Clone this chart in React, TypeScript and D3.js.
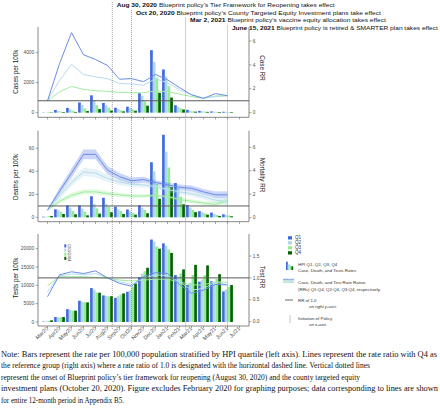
import React from 'react';
import * as d3 from 'd3';

// ---------- DATA ----------
const months = ['Mar20','Apr20','May20','Jun20','Jul20','Aug20','Sep20','Oct20','Nov20','Dec20','Jan21','Feb21','Mar21','Apr21','May21','Jun21','Jul21'];
const quartiles = ['Q1','Q2','Q3','Q4'];

const caseQ1 = [15, 180, 320, 680, 1160, 650, 330, 400, 1300, 4170, 2880, 500, 190, 120, 85, 65];
const caseQ2 = [15, 110, 220, 510, 850, 500, 250, 310, 1130, 3380, 2400, 400, 140, 90, 70, 55];
const caseQ3 = [45, 70, 130, 290, 500, 330, 160, 220, 750, 2340, 1770, 290, 95, 70, 55, 45];
const caseQ4 = [25, 45, 50, 110, 240, 140, 90, 130, 470, 1330, 1010, 210, 70, 55, 45, 40];
const caseRR1 = [1.0, 4.1, 6.7, 4.85, 4.45, 3.95, 2.8, 2.85, 2.6, 3.2, 2.75, 2.1, 1.5, 1.2, 1.6, 1.42];
const caseRR2 = [1.0, 2.7, 4.05, 3.2, 3.0, 2.85, 2.45, 2.4, 2.3, 2.85, 2.5, 1.92, 1.5, 1.22, 1.35, 1.42];
const caseRR3 = [1.0, 1.75, 2.2, 1.95, 1.85, 1.78, 1.7, 1.67, 1.67, 1.82, 1.76, 1.56, 1.35, 1.2, 1.4, 1.42];

const deathQ1 = [0.5, 7, 10.4, 10.4, 18.3, 17, 9.3, 6.8, 10.5, 47.9, 71.8, 29.8, 10.7, 5.3, 4.1, 2.6];
const deathQ2 = [0.4, 6.2, 8.4, 7.6, 11.6, 11.6, 7, 5.2, 8.4, 40, 57, 25.5, 8.4, 4.4, 2.9, 2];
const deathQ3 = [1, 4.8, 5.5, 4.9, 7.8, 9.3, 5.5, 3.8, 6.4, 28.8, 43.3, 18, 6.5, 3.5, 2, 1.5];
const deathQ4 = [1.2, 2.9, 2.6, 1.7, 3.2, 4.4, 2.9, 2.3, 3.5, 16.1, 26.2, 11.3, 4.5, 2.3, 1.2, 0.9];
const deathRR1 = [0.65, 2.25, 3.8, 5.4, 5.4, 4.05, 3.5, 3.15, 3.25, 3.0, 2.8, 2.6, 2.5, 2.2, 1.95, 1.95];
const deathRR2 = [0.65, 1.85, 3.0, 3.9, 3.8, 3.35, 3.05, 2.85, 2.8, 2.65, 2.4, 2.2, 2.05, 1.8, 1.5, 1.35];
const deathRR3 = [0.65, 1.4, 1.9, 2.2, 2.2, 2.05, 1.95, 1.85, 1.85, 1.9, 1.8, 1.55, 1.4, 1.25, 1.15, 1.45];
const deathCI1 = [0.1, 0.3, 0.4, 0.42, 0.42, 0.35, 0.3, 0.28, 0.25, 0.2, 0.2, 0.22, 0.25, 0.25, 0.28, 0.3];
const deathCI2 = [0.1, 0.25, 0.33, 0.35, 0.35, 0.3, 0.27, 0.25, 0.22, 0.18, 0.18, 0.2, 0.22, 0.22, 0.25, 0.27];
const deathCI3 = [0.1, 0.18, 0.22, 0.22, 0.22, 0.2, 0.18, 0.17, 0.15, 0.13, 0.13, 0.15, 0.17, 0.18, 0.2, 0.22];

const testQ1 = [100, 1350, 3500, 5800, 9250, 7250, 6600, 8250, 12250, 22500, 21450, 12800, 10100, 11000, 11100, 8350];
const testQ2 = [150, 1300, 3300, 5500, 8800, 7100, 7050, 8650, 13200, 21900, 20800, 12400, 10700, 11600, 10850, 8900];
const testQ3 = [300, 1300, 3100, 5350, 8050, 7000, 7500, 9650, 13850, 20600, 19800, 13300, 12800, 12800, 11700, 9650];
const testQ4 = [450, 1350, 3100, 5350, 8000, 7050, 7800, 10450, 14800, 20000, 18850, 14350, 15600, 15450, 13050, 10100];
const testRR1 = [0.57, 1.07, 1.14, 1.1, 1.16, 1.0, 0.875, 0.81, 1.03, 1.12, 1.1, 0.85, 0.65, 0.72, 0.85, 0.84];
const testRR2 = [0.68, 1.05, 1.09, 1.07, 1.1, 1.0, 0.91, 0.85, 0.99, 1.07, 1.05, 0.91, 0.72, 0.76, 0.9, 0.85];
const testRR3 = [0.82, 1.03, 1.03, 1.03, 1.01, 0.99, 0.95, 0.93, 0.95, 0.97, 0.97, 0.91, 0.84, 0.84, 0.91, 0.9];

const caseTicks = [0, 2000, 4000];
const deathTicks = [0, 20, 40, 60];
const testTicks = [0, 5000, 10000, 15000, 20000];
const rrTicks = [0, 2, 4, 6];
const testRRTicks = [0, 0.5, 1.0, 1.5];

const policyIdx = [5.4, 7, 11.5, 15];
const policyDates = ['Aug 30, 2020', 'Oct 20, 2020', 'Mar 2, 2021', 'June 15, 2021'];
const policyTexts = [
  ' Blueprint policy\u2019s Tier Framework for Reopening takes effect',
  ' Blueprint policy\u2019s County Targeted Equity Investment plans take effect',
  ' Blueprint policy\u2019s vaccine equity allocation takes effect',
  ' Blueprint policy is retired & SMARTER plan takes effect',
];

const noteLines = [
  'Note: Bars represent the rate per 100,000 population stratified by HPI quartile (left axis). Lines represent the rate ratio with Q4 as',
  'the reference group (right axis) where a rate ratio of 1.0 is designated with the horizontal dashed line. Vertical dotted lines',
  'represent the onset of Blueprint policy\u2019s tier framework for reopening (August 30, 2020) and the county targeted equity',
  'investment plans (October 20, 2020). Figure excludes February 2020 for graphing purposes; data corresponding to lines are shown',
  'for entire 12-month period in Appendix B5.',
];

// ---------- STYLE ----------
const SANS = 'Liberation Sans, Arial, Helvetica, sans-serif';
const SERIF = 'Liberation Serif, Times New Roman, serif';
const barColors = ['#4169e1', '#add8e6', '#90ee90', '#006400'];
const lineColors = ['#6b8de8', '#b7dcec', '#a3eaa3'];
const bandColors = ['#4169e1', '#a8d4e6', '#90ee90'];
const axisColor = '#555';
const tickText = '#4d4d4d';

export default function App() {
  const xL = 38, xR = 249;
  const xPt = d3.scalePoint<string>().domain(months).range([47.5, 239.5]);
  const xIdx = d3.scaleLinear().domain([0, months.length - 1]).range([47.5, 239.5]);
  const groupW = 10.8;
  const xIn = d3.scaleBand<string>().domain(quartiles).range([-groupW / 2, groupW / 2]);

  const panels = [
    {
      top: 27, bottom: 117.3,
      yL: d3.scaleLinear().domain([0, 4000]).range([112.7, 52.7]), lTicks: caseTicks, lFmt: d3.format('d'),
      yR: d3.scaleLinear().domain([0, 6]).range([112.7, 41]), rTicks: rrTicks, rFmt: d3.format('d'),
      bars: [caseQ1, caseQ2, caseQ3, caseQ4], rr: [caseRR1, caseRR2, caseRR3], ci: null as null | number[][],
      lTitle: 'Cases per 100k', rTitle: 'Case RR', lY: 71.7, rY: 68,
    },
    {
      top: 130.7, bottom: 221.7,
      yL: d3.scaleLinear().domain([0, 60]).range([217.3, 148.3]), lTicks: deathTicks, lFmt: d3.format('d'),
      yR: d3.scaleLinear().domain([0, 6]).range([217.7, 147.3]), rTicks: rrTicks, rFmt: d3.format('d'),
      bars: [deathQ1, deathQ2, deathQ3, deathQ4], rr: [deathRR1, deathRR2, deathRR3], ci: [deathCI1, deathCI2, deathCI3],
      lTitle: 'Deaths per 100k', rTitle: 'Mortality RR', lY: 177, rY: 175,
    },
    {
      top: 234, bottom: 326,
      yL: d3.scaleLinear().domain([0, 20000]).range([322, 248.7]), lTicks: testTicks, lFmt: d3.format('d'),
      yR: d3.scaleLinear().domain([0, 1.5]).range([321.7, 256]), rTicks: testRRTicks, rFmt: d3.format('.1f'),
      bars: [testQ1, testQ2, testQ3, testQ4], rr: [testRR1, testRR2, testRR3], ci: null as null | number[][],
      lTitle: 'Tests per 100k', rTitle: 'Test RR', lY: 278, rY: 277,
    },
  ];

  const annY = [6.8, 14.5, 22.2, 29.9];
  const annTop = [2, 10, 17.5, 25.5];
  const annLen = [218, 245, 196, 206];

  return (
    <svg width={440} height={409} style={{ position: 'absolute', left: 0, top: 0 }} fontFamily={SANS}>
      <rect x={0} y={0} width={440} height={409} fill="#fff" />
      {panels.map((p, pi) => {
        const line = d3.line<number>().x((_, i) => xIdx(i)).y(d => p.yR(d));
        return (
          <g key={pi}>
            {p.bars.map((series, q) => (
              <g key={q} fill={barColors[q]}>
                {series.map((v, i) => (
                  <rect key={i} x={(xPt(months[i]) as number) + (xIn(quartiles[q]) as number)} width={xIn.bandwidth()}
                    y={p.yL(v)} height={p.yL(0) - p.yL(v)} />
                ))}
              </g>
            ))}
            {p.ci && p.rr.map((series, k) => {
              const area = d3.area<number>().x((_, i) => xIdx(i))
                .y0((d, i) => p.yR(d - (p.ci as number[][])[k][i]))
                .y1((d, i) => p.yR(d + (p.ci as number[][])[k][i]));
              return <path key={'b' + k} d={area(series) || ''} fill={bandColors[k]} fillOpacity={0.28} stroke="none" />;
            })}
            {[2, 1, 0].map(k => (
              <path key={'l' + k} d={line(p.rr[k]) || ''} fill="none" stroke={lineColors[k]} strokeWidth={1} />
            ))}
            <line x1={xL} x2={xR} y1={p.yR(1)} y2={p.yR(1)} stroke="#5a5a5a" strokeWidth={1} />
            <line x1={xL} x2={xL} y1={p.top} y2={p.bottom} stroke={axisColor} strokeWidth={0.7} />
            <line x1={xR} x2={xR} y1={p.top} y2={p.bottom} stroke={axisColor} strokeWidth={0.7} />
            <line x1={xL} x2={xR} y1={p.bottom} y2={p.bottom} stroke={axisColor} strokeWidth={0.7} />
            {months.map((m, i) => (
              <line key={m} x1={xPt(m)} x2={xPt(m)} y1={p.bottom} y2={p.bottom + 2.2} stroke={axisColor} strokeWidth={0.5} />
            ))}
            {p.lTicks.map(t => (
              <g key={'lt' + t}>
                <line x1={xL - 2.5} x2={xL} y1={p.yL(t)} y2={p.yL(t)} stroke={axisColor} strokeWidth={0.5} />
                <text x={xL - 3.8} y={p.yL(t)} dy="0.35em" textAnchor="end" fontSize={4.8} fill={tickText}>{p.lFmt(t)}</text>
              </g>
            ))}
            {p.rTicks.map(t => (
              <g key={'rt' + t}>
                <line x1={xR} x2={xR + 2.5} y1={p.yR(t)} y2={p.yR(t)} stroke={axisColor} strokeWidth={0.5} />
                <text x={xR + 3.8} y={p.yR(t)} dy="0.35em" textAnchor="start" fontSize={4.8} fill={tickText}>{p.rFmt(t)}</text>
              </g>
            ))}
            <text transform={`translate(15.7,${p.lY}) rotate(-90)`} textAnchor="middle" dy="0.35em" fontSize={6.3} fill="#222">{p.lTitle}</text>
            <text transform={`translate(262,${p.rY}) rotate(90)`} textAnchor="middle" dy="0.35em" fontSize={6.3} fill="#222">{p.rTitle}</text>
          </g>
        );
      })}

      {months.map(m => (
        <text key={m} transform={`translate(${(xPt(m) as number) + 1},${329}) rotate(-45)`} textAnchor="end" fontSize={5.4} fill={tickText}>{m}</text>
      ))}

      {quartiles.map((q, i) => (
        <g key={'il' + q}>
          <rect x={64.3} y={244.3 + i * 4.15} width={2} height={3.2} fill={barColors[i]} />
          <text transform={`translate(67.6,${244.2 + i * 4.15}) rotate(90)`} fontSize={3.2} fill="#444">{q}</text>
        </g>
      ))}

      {policyIdx.map((v, k) => (
        <line key={'pl' + k} x1={xIdx(v)} x2={xIdx(v)} y1={annTop[k]} y2={330} stroke="#808080" strokeWidth={0.7} strokeDasharray="1 1" />
      ))}
      {policyIdx.map((v, k) => (
        <text key={'pt' + k} x={xIdx(v) + 4.4} y={annY[k]} fontSize={6.2} fill="#111" textLength={annLen[k]} lengthAdjust="spacingAndGlyphs">
          <tspan fontWeight="bold">{policyDates[k]}</tspan>
          <tspan>{policyTexts[k]}</tspan>
        </text>
      ))}

      {quartiles.map((q, i) => (
        <g key={'rl' + q}>
          <rect x={288} y={236.2 + i * 5} width={4} height={3.3} fill={barColors[i]} />
          <text x={295} y={239.3 + i * 5} fontSize={4.6} fill="#333">{q}</text>
        </g>
      ))}
      <g>
        <rect x={286} y={261.7} width={1.8} height={8.3} fill={barColors[0]} />
        <rect x={287.8} y={264.3} width={1.8} height={5.7} fill={barColors[1]} />
        <rect x={289.6} y={265.3} width={1.8} height={4.7} fill={barColors[2]} />
        <rect x={291.4} y={266.3} width={1.8} height={3.7} fill={barColors[3]} />
        <text x={298} y={265.8} fontSize={4.4} fill="#333">HPI Q1, Q2, Q3, Q4</text>
        <text x={298} y={272.3} fontSize={4.4} fill="#333">Case, Death, and Tests Rates</text>

        <rect x={283} y={278.3} width={11} height={4.8} fill="#cfe3f3" fillOpacity={0.8} />
        <path d="M283,279.6 L286,279.3 L289,279.8 L294,279.4" stroke={lineColors[0]} strokeWidth={0.7} fill="none" />
        <path d="M283,280.9 L287,280.6 L290,281.1 L294,280.8" stroke={lineColors[1]} strokeWidth={0.7} fill="none" />
        <path d="M283,282.3 L286,282.0 L290,282.5 L294,282.1" stroke={lineColors[2]} strokeWidth={0.7} fill="none" />
        <text x={298} y={284} fontSize={4.4} fill="#333">Case, Death, and Test Rate Ratios</text>
        <text x={298} y={290.7} fontSize={4.4} fill="#333">(RRs) Q1:Q4, Q2:Q4, Q3:Q4, respectively.</text>

        <line x1={285} x2={293} y1={300} y2={300} stroke="#444" strokeWidth={0.8} />
        <text x={298} y={301.8} fontSize={4.4} fill="#333">RR of 1.0</text>
        <text x={309} y={308.4} fontSize={4.4} fill="#333" fontStyle="italic">on right y-axis</text>

        <line x1={290} x2={290} y1={315} y2={323} stroke="#aaa" strokeWidth={0.7} />
        <text x={298} y={320.3} fontSize={4.4} fill="#333">Initiation of Policy</text>
        <text x={309} y={326.4} fontSize={4.4} fill="#333" fontStyle="italic">on x-axis</text>
      </g>

      {noteLines.map((t, i) => (
        <text key={'n' + i} x={1} y={357 + i * 11.4} fontFamily={SERIF} fontSize={7.6} fill="#111"
          textLength={[436, 369, 359, 437, 123][i]} lengthAdjust="spacingAndGlyphs">{t}</text>
      ))}
    </svg>
  );
}
